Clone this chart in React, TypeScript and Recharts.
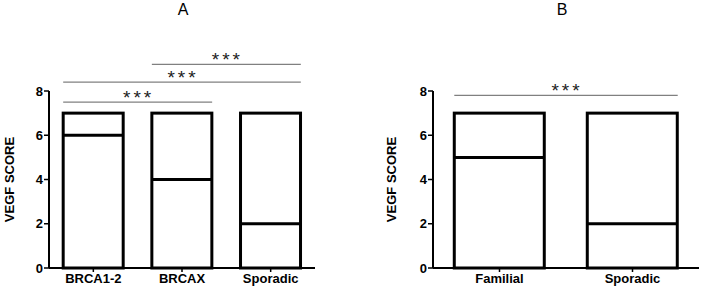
import { Bar, BarChart, ReferenceLine, XAxis, YAxis } from 'recharts';

// Panel A
const groupsA = ['BRCA1-2', 'BRCAX', 'Sporadic'];
const maxA = [7, 7, 7];
const medianA = [6, 4, 2];
// Panel B
const groupsB = ['Familial', 'Sporadic'];
const maxB = [7, 7];
const medianB = [5, 2];

const yTicks = [0, 2, 4, 6, 8];

// significance brackets: from group index to group index, drawn at a y value
const bracketsA = [
    { from: 0, to: 1, y: 7.5, label: '***' },
    { from: 0, to: 2, y: 8.4, label: '***' },
    { from: 1, to: 2, y: 9.2, label: '***' },
];
const bracketsB = [
    { from: 0, to: 1, y: 7.8, label: '***' },
];

const FONT = '"Liberation Sans", Arial, sans-serif';
const GAP = 0.16; // same as barCategoryGap

type Bracket = { from: number; to: number; y: number; label: string };

// draws the box from 0 to max with the median line across it
function BoxShape(props: any) {
    const { x, y, width, height, payload } = props;
    const my = y + height - (payload.median / payload.max) * height;
    return <g>
        <rect x={x} y={y} width={width} height={height} fill="#fff" stroke="#000" strokeWidth={3} />
        <line x1={x} x2={x + width} y1={my} y2={my} stroke="#000" strokeWidth={3} />
    </g>;
}

function StarLabel(props: any) {
    const { viewBox, text } = props;
    const cx = viewBox.x + viewBox.width / 2;
    return <text x={cx + 1} y={viewBox.y + 2} textAnchor="middle" fontSize={19} fill="#222"
        fontFamily={FONT} letterSpacing={3}>{text}</text>;
}

function YLabel(props: any) {
    const { viewBox, labelX } = props;
    const cy = viewBox.y + viewBox.height / 2;
    return <text x={labelX} y={cy} transform={`rotate(-90, ${labelX}, ${cy})`} textAnchor="middle"
        dominantBaseline="central" fontSize={13} fontWeight="bold" fill="#000" fontFamily={FONT}>VEGF SCORE</text>;
}

type PanelProps = {
    groups: string[];
    max: number[];
    median: number[];
    brackets: Bracket[];
    yAxisWidth: number;
    labelX: number;
    marginRight: number;
};

function Panel({ groups, max, median, brackets, yAxisWidth, labelX, marginRight }: PanelProps) {
    const data = groups.map((g, i) => ({ name: g, max: max[i], median: median[i], idx: i + 0.5 }));
    const tickStyle = { fontSize: 13, fontWeight: 'bold', fill: '#000', fontFamily: FONT };
    return (
        <BarChart width={352} height={293} data={data} barCategoryGap="16%"
            margin={{ top: 91, right: marginRight, bottom: 5, left: 0 }}>
            <XAxis dataKey="name" height={20} tick={tickStyle} tickSize={4} tickMargin={2}
                axisLine={{ stroke: '#000', strokeWidth: 2 }} tickLine={{ stroke: '#000', strokeWidth: 1.5 }} interval={0} />
            <XAxis xAxisId="n" type="number" dataKey="idx" domain={[0, groups.length]} allowDataOverflow hide />
            <YAxis domain={[0, 8]} ticks={yTicks} width={yAxisWidth} tick={tickStyle} tickSize={5} tickMargin={1}
                axisLine={{ stroke: '#000', strokeWidth: 2 }} tickLine={{ stroke: '#000', strokeWidth: 1.5 }}
                label={<YLabel labelX={labelX} />} />
            <Bar dataKey="max" shape={<BoxShape />} isAnimationActive={false} />
            {brackets.map((b, i) => (
                <ReferenceLine key={i} xAxisId="n" ifOverflow="visible"
                    segment={[{ x: b.from + GAP, y: b.y }, { x: b.to + 1 - GAP, y: b.y }]}
                    stroke="#808080" strokeWidth={1.3} label={<StarLabel text={b.label} />} />
            ))}
        </BarChart>
    );
}

function App() {
    return (
        <div style={{ position: 'absolute', left: 0, top: 0, width: 704, height: 293, background: '#fff' }}>
            <div style={{ position: 'absolute', left: 0, top: 0 }}>
                <Panel groups={groupsA} max={maxA} median={medianA} brackets={bracketsA}
                    yAxisWidth={49} labelX={9} marginRight={37} />
            </div>
            <div style={{ position: 'absolute', left: 352, top: 0 }}>
                <Panel groups={groupsB} max={maxB} median={medianB} brackets={bracketsB}
                    yAxisWidth={81} labelX={39} marginRight={5} />
            </div>
            {/* panel titles */}
            <div style={{ position: 'absolute', left: 173, top: 1, width: 20, textAlign: 'center', fontFamily: FONT, fontSize: 16 }}>A</div>
            <div style={{ position: 'absolute', left: 552, top: 1, width: 20, textAlign: 'center', fontFamily: FONT, fontSize: 16 }}>B</div>
        </div>
    );
}

export default App;
